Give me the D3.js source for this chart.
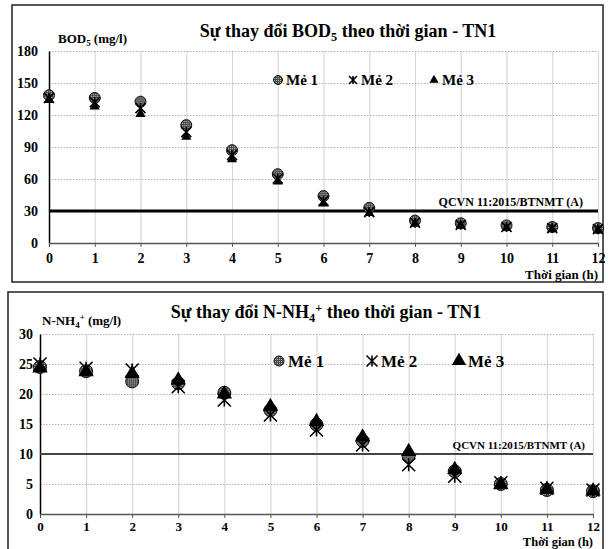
<!DOCTYPE html>
<html>
<head>
<meta charset="utf-8">
<script src="https://cdn.jsdelivr.net/npm/d3@7"></script>
<style>
  body { margin: 0; background: #fff; }
  svg { display: block; }
  svg text { font-family: "Liberation Serif", "Times New Roman", serif; font-weight: bold; }
</style>
</head>
<body>
<svg width="608" height="549"></svg>
<script>
// data
const hours = [0, 1, 2, 3, 4, 5, 6, 7, 8, 9, 10, 11, 12];
const seriesNames = ['Mẻ 1', 'Mẻ 2', 'Mẻ 3'];
const limitLabel = 'QCVN 11:2015/BTNMT (A)';

const bodMe1 = [138.5, 136, 132.5, 110.5, 87, 64.5, 44, 33, 21, 18.5, 16.5, 15, 14];
const bodMe2 = [136, 132, 126.5, 104, 82.5, 60.5, 39.5, 29, 19, 17, 15, 14, 13];
const bodMe3 = [134, 128, 121, 99.5, 78.5, 57.5, 37, 28, 18, 16.5, 14, 13, 12];
const bodTicks = [0, 30, 60, 90, 120, 150, 180];
const bodLimit = 30;

const nh4Me1 = [24.5, 23.8, 22.1, 21.8, 20.2, 17.3, 14.9, 12.2, 9.6, 7.1, 5, 4, 3.8];
const nh4Me2 = [25, 24.3, 24, 21.2, 19, 16.5, 14, 11.5, 8.2, 6.3, 5.2, 4.3, 4];
const nh4Me3 = [24.3, 23.7, 23.4, 22.3, 20, 17.9, 15.4, 12.8, 10.4, 7.4, 4.9, 4.1, 3.8];
const nh4Ticks = [0, 5, 10, 15, 20, 25, 30];
const nh4Limit = 10;

const svg = d3.select('svg');

// grey speckled fill used by the Mẻ 1 circles
const pat = svg.append('defs').append('pattern')
    .attr('id', 'dots')
    .attr('width', 2).attr('height', 2)
    .attr('patternUnits', 'userSpaceOnUse');
pat.append('rect').attr('width', 2).attr('height', 2).attr('fill', '#4a4a4a');
pat.append('rect').attr('width', 1).attr('height', 1).attr('fill', '#b5b5b5');

// text with sub/superscript pieces: ['5', 4] means shifted down 4px
function richText(g, x, y, parts, size, anchor) {
  const t = g.append('text')
      .attr('x', x).attr('y', y)
      .attr('font-size', size)
      .attr('text-anchor', anchor || 'start');
  let cur = 0;
  parts.forEach(p => {
    const s = typeof p === 'string' ? p : p[0];
    const off = typeof p === 'string' ? 0 : p[1];
    t.append('tspan')
        .attr('dy', off - cur)
        .attr('font-size', off ? size * 0.68 : size)
        .text(s);
    cur = off;
  });
  return t;
}

function starPath(h) {
  return `M${-h},${-h}L${h},${h}M${-h},${h}L${h},${-h}M0,${-h}L0,${h}`;
}

function marker(sel, kind, size) {
  if (kind === 0) {
    sel.append('circle')
        .attr('r', size / 2)
        .attr('fill', 'url(#dots)')
        .attr('stroke', '#111')
        .attr('stroke-width', 1);
  } else if (kind === 1) {
    sel.append('path')
        .attr('d', starPath(size / 2))
        .attr('fill', 'none')
        .attr('stroke', '#000')
        .attr('stroke-width', 1.6);
  } else {
    sel.append('path')
        .attr('d', d3.symbol().type(d3.symbolTriangle).size(size * size * 0.45)())
        .attr('fill', '#000');
  }
}

function drawChart(c) {
  const g = svg.append('g');

  // frame
  g.append('rect')
      .attr('x', c.box[0]).attr('y', c.box[1])
      .attr('width', c.box[2]).attr('height', c.box[3])
      .attr('fill', 'none')
      .attr('stroke', '#222')
      .attr('stroke-width', 1.5);

  const x = d3.scaleLinear().domain([0, 12]).range([c.plot.l, c.plot.r]);
  const y = d3.scaleLinear().domain([0, c.ticks[c.ticks.length - 1]]).range([c.plot.b, c.plot.t]);

  // vertical grid (solid light)
  g.append('g')
      .attr('transform', `translate(0,${c.plot.t})`)
      .call(d3.axisTop(x).tickValues(hours.slice(1)).tickSize(-(c.plot.b - c.plot.t)).tickFormat(''))
      .call(a => a.select('.domain').remove())
      .call(a => a.selectAll('line').attr('stroke', '#d9d9d9').attr('stroke-width', 1.2));

  // horizontal grid (dotted)
  g.append('g')
      .attr('transform', `translate(${c.plot.l},0)`)
      .call(d3.axisLeft(y).tickValues(c.ticks.slice(1)).tickSize(-(c.plot.r - c.plot.l)).tickFormat(''))
      .call(a => a.select('.domain').remove())
      .call(a => a.selectAll('line').attr('stroke', '#b0b0b0').attr('stroke-dasharray', '1.5,1.5'));

  // y axis
  const ya = g.append('g')
      .attr('transform', `translate(${c.plot.l},0)`)
      .call(d3.axisLeft(y).tickValues(c.ticks).tickSize(0).tickPadding(c.yPad))
      .attr('font-family', null)
      .attr('font-size', null);
  ya.select('.domain').attr('stroke', '#000').attr('stroke-width', 1.5);
  ya.selectAll('text').attr('font-size', 14).attr('fill', '#000');

  // x axis
  const xa = g.append('g')
      .attr('transform', `translate(0,${c.plot.b})`)
      .call(d3.axisBottom(x).tickValues(hours).tickSize(4).tickSizeOuter(0).tickPadding(c.xPad))
      .attr('font-family', null)
      .attr('font-size', null);
  xa.select('.domain').attr('stroke', '#555').attr('stroke-width', 1.5);
  xa.selectAll('line').attr('stroke', '#555');
  xa.selectAll('text').attr('font-size', c.xFont).attr('fill', '#000');

  // limit line
  g.append('line')
      .attr('x1', c.plot.l).attr('x2', c.plot.r)
      .attr('y1', y(c.limit)).attr('y2', y(c.limit))
      .attr('stroke', c.limitColor)
      .attr('stroke-width', c.limitWidth);
  g.append('text')
      .attr('x', c.limitText[0]).attr('y', c.limitText[1])
      .attr('font-size', c.limitText[2])
      .attr('text-anchor', 'end')
      .text(limitLabel);

  // points
  c.series.forEach((vals, k) => {
    const pts = g.append('g').selectAll('g')
        .data(hours.map((h, i) => ({ h, v: vals[i] })))
        .join('g')
        .attr('transform', d => `translate(${x(d.h)},${y(d.v)})`);
    marker(pts, k, c.markerSize[k]);
  });

  // titles
  richText(g, c.title[0], c.title[1], c.titleParts, 18, 'middle');
  richText(g, c.yTitle[0], c.yTitle[1], c.yTitleParts, 13, 'start');
  g.append('text')
      .attr('x', c.xTitle[0]).attr('y', c.xTitle[1])
      .attr('font-size', c.xTitle[2])
      .attr('text-anchor', 'end')
      .text('Thời gian (h)');

  // legend
  seriesNames.forEach((name, k) => {
    const lx = c.legend.xs[k];
    const m = g.append('g').attr('transform', `translate(${lx},${c.legend.y})`);
    marker(m, k, c.legend.marker[k]);
    g.append('text')
        .attr('x', lx + c.legend.gap)
        .attr('y', c.legend.y)
        .attr('dy', '0.35em')
        .attr('font-size', c.legend.font)
        .text(name);
  });
}

drawChart({
  box: [12, 5, 591, 277],
  plot: { l: 49, r: 598, t: 51, b: 243 },
  ticks: bodTicks,
  yPad: 11,
  xPad: 6,
  xFont: 14,
  series: [bodMe1, bodMe2, bodMe3],
  markerSize: [11, 10, 10],
  limit: bodLimit,
  limitColor: '#000',
  limitWidth: 3,
  limitText: [583, 206, 12],
  title: [348, 37],
  titleParts: ['Sự thay đổi BOD', ['5', 4], ' theo thời gian - TN1'],
  yTitle: [58, 43],
  yTitleParts: ['BOD', ['5', 3], ' (mg/l)'],
  xTitle: [598, 279, 13],
  legend: { y: 80, xs: [278, 353, 434], gap: 8, font: 15, marker: [9, 8, 9] }
});

drawChart({
  box: [8, 292, 595, 262],
  plot: { l: 40, r: 593, t: 334, b: 514 },
  ticks: nh4Ticks,
  yPad: 7,
  xPad: 4,
  xFont: 13,
  series: [nh4Me1, nh4Me2, nh4Me3],
  markerSize: [13, 13, 15],
  limit: nh4Limit,
  limitColor: '#444',
  limitWidth: 2,
  limitText: [585, 449, 11],
  title: [326, 318],
  titleParts: ['Sự thay đổi N-NH', ['4', 4], ['+', -6], ' theo thời gian - TN1'],
  yTitle: [42, 325],
  yTitleParts: ['N-NH', ['4', 3], ['+', -5], ' (mg/l)'],
  xTitle: [593, 546, 12.5],
  legend: { y: 361, xs: [279, 372, 459], gap: 9, font: 17, marker: [10, 11, 14] }
});
</script>
</body>
</html>
